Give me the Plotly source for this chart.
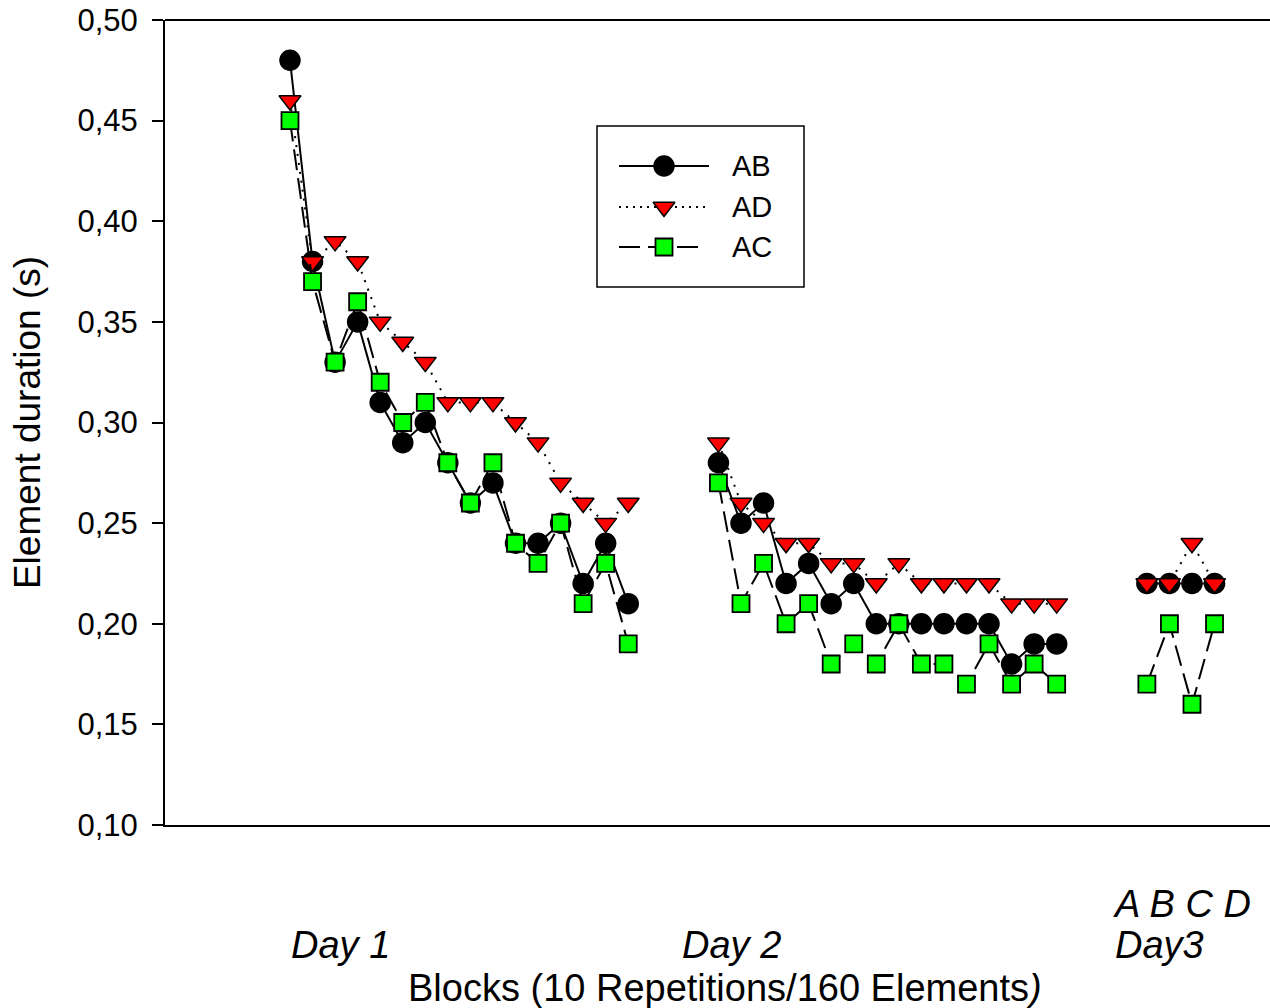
import plotly.graph_objects as go

# ---- data ----
day1_blocks = list(range(1, 17))
day2_blocks = list(range(20, 36))
day3_blocks = list(range(39, 43))

ab_day1 = [0.48, 0.38, 0.33, 0.35, 0.31, 0.29, 0.30, 0.28, 0.26, 0.27, 0.24, 0.24, 0.25, 0.22, 0.24, 0.21]
ab_day2 = [0.28, 0.25, 0.26, 0.22, 0.23, 0.21, 0.22, 0.20, 0.20, 0.20, 0.20, 0.20, 0.20, 0.18, 0.19, 0.19]
ab_day3 = [0.22, 0.22, 0.22, 0.22]

ad_day1 = [0.46, 0.38, 0.39, 0.38, 0.35, 0.34, 0.33, 0.31, 0.31, 0.31, 0.30, 0.29, 0.27, 0.26, 0.25, 0.26]
ad_day2 = [0.29, 0.26, 0.25, 0.24, 0.24, 0.23, 0.23, 0.22, 0.23, 0.22, 0.22, 0.22, 0.22, 0.21, 0.21, 0.21]
ad_day3 = [0.22, 0.22, 0.24, 0.22]

ac_day1 = [0.45, 0.37, 0.33, 0.36, 0.32, 0.30, 0.31, 0.28, 0.26, 0.28, 0.24, 0.23, 0.25, 0.21, 0.23, 0.19]
ac_day2 = [0.27, 0.21, 0.23, 0.20, 0.21, 0.18, 0.19, 0.18, 0.20, 0.18, 0.18, 0.17, 0.19, 0.17, 0.18, 0.17]
ac_day3 = [0.17, 0.20, 0.16, 0.20]

series_names = ["AB", "AD", "AC"]

y_ticks = [0.10, 0.15, 0.20, 0.25, 0.30, 0.35, 0.40, 0.45, 0.50]
y_tick_text = ["0,10", "0,15", "0,20", "0,25", "0,30", "0,35", "0,40", "0,45", "0,50"]

# ---- styles ----
FONT = "Liberation Sans, Arial, sans-serif"
STYLES = {
    "AB": dict(line=dict(color="black", width=2, dash="solid"),
               marker=dict(symbol="circle", size=20, color="black",
                           line=dict(color="black", width=1.5))),
    "AD": dict(line=dict(color="black", width=2, dash="2px,7px"),
               marker=dict(symbol="triangle-down", size=19, color="#ff0000",
                           line=dict(color="black", width=1.5))),
    "AC": dict(line=dict(color="black", width=2, dash="21px,8px"),
               marker=dict(symbol="square", size=17, color="#00ff00",
                           line=dict(color="black", width=1.8))),
}
LEGEND_DASH = {"AB": "solid", "AD": "2px,5px", "AC": "21px,8px"}


def joined(d1, d2, d3):
    xs = day1_blocks + [None] + day2_blocks + [None] + day3_blocks
    ys = d1 + [None] + d2 + [None] + d3
    return xs, ys


fig = go.Figure()

for name, (d1, d2, d3) in zip(series_names, [(ab_day1, ab_day2, ab_day3),
                                             (ad_day1, ad_day2, ad_day3),
                                             (ac_day1, ac_day2, ac_day3)]):
    x, y = joined(d1, d2, d3)
    fig.add_trace(go.Scatter(x=x, y=y, name=name, mode="lines+markers",
                             showlegend=False, **STYLES[name]))

# ---- custom legend (pixel-based overlay axes) ----
LEG_LEFT, LEG_RIGHT, LEG_TOP, LEG_BOTTOM = 597, 804, 126, 287
LEG_ROWS_Y = [166, 207, 247]
LEG_LINE_X0, LEG_LINE_X1, LEG_MARK_X, LEG_TEXT_X = 619, 709, 664, 730

for name, ry in zip(series_names, LEG_ROWS_Y):
    st = STYLES[name]
    x1 = 700 if name == "AC" else LEG_LINE_X1
    fig.add_trace(go.Scatter(
        x=[LEG_LINE_X0, x1], y=[ry, ry], mode="lines", xaxis="x2", yaxis="y2",
        line=dict(color="black", width=2, dash=LEGEND_DASH[name]),
        showlegend=False, hoverinfo="skip"))
    fig.add_trace(go.Scatter(
        x=[LEG_MARK_X], y=[ry], mode="markers", xaxis="x2", yaxis="y2",
        marker=st["marker"], showlegend=False, hoverinfo="skip"))
    fig.add_annotation(text=name, x=LEG_TEXT_X, y=ry, xref="x2", yref="y2",
                       xanchor="left", yanchor="middle", showarrow=False,
                       font=dict(family=FONT, size=29, color="black"))

fig.update_layout(
    width=1270, height=1008,
    margin=dict(l=165, r=0, t=20, b=183),
    paper_bgcolor="white", plot_bgcolor="white",
    font=dict(family=FONT, size=30, color="black"),
    showlegend=False,
    xaxis=dict(
        range=[-4.543, 44.46],
        showline=True, linecolor="black", linewidth=2,
        showticklabels=False, ticks="", showgrid=False, zeroline=False,
    ),
    yaxis=dict(
        range=[0.10, 0.50],
        tickvals=y_ticks, ticktext=y_tick_text,
        showline=True, linecolor="black", linewidth=2,
        ticks="outside", ticklen=11, tickwidth=2, tickcolor="black",
        tickfont=dict(family=FONT, size=31, color="black"),
        ticklabelstandoff=8,
        showgrid=False, zeroline=False,
        title=dict(text="Element duration (s)",
                   font=dict(family=FONT, size=37, color="black"),
                   standoff=26),
    ),
    xaxis2=dict(range=[165, 1270], overlaying="x", anchor="y2", visible=False,
                fixedrange=True),
    yaxis2=dict(range=[825, 20], overlaying="y", anchor="x2", visible=False,
                fixedrange=True),
    shapes=[
        dict(type="line", xref="paper", yref="paper", x0=0, x1=1, y0=1, y1=1,
             line=dict(color="black", width=2)),
        dict(type="rect", xref="x2", yref="y2", x0=LEG_LEFT, x1=LEG_RIGHT,
             y0=LEG_TOP, y1=LEG_BOTTOM, line=dict(color="black", width=1.5)),
    ],
)

annots = [
    dict(text="<i>Day 1</i>", x=3.22, y=(825 - 945) / 805),
    dict(text="<i>Day 2</i>", x=20.56, y=(825 - 945) / 805),
    dict(text="<i>Day3</i>", x=39.58, y=(825 - 945) / 805),
    dict(text="<i>A B C D</i>", x=40.55, y=(825 - 904) / 805),
    dict(text="Blocks (10 Repetitions/160 Elements<i>)</i>", x=20.3, y=(825 - 988) / 805),
]
for a in annots:
    fig.add_annotation(
        text=a["text"], x=a["x"], y=a["y"], xref="x", yref="paper",
        xanchor="center", yanchor="middle", showarrow=False,
        font=dict(family=FONT, size=38, color="black"),
    )

fig.write_html("out.html")
